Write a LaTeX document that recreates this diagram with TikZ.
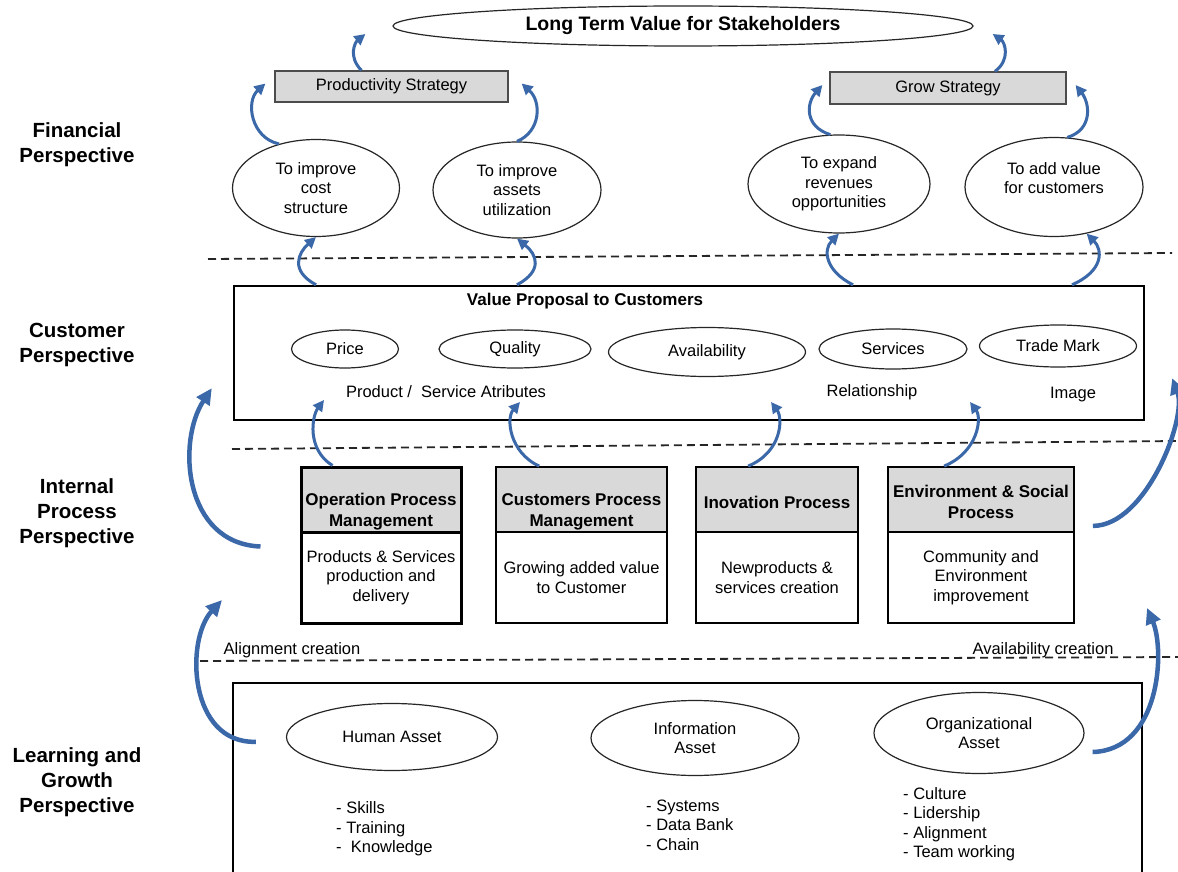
\documentclass[tikz,border=0pt]{standalone}
\usepackage{fontspec}
\setmainfont{Liberation Sans}
\usetikzlibrary{shapes.geometric,arrows.meta,calc}
\definecolor{arrowblue}{RGB}{59,104,168}
\definecolor{boxgray}{RGB}{217,217,217}
\begin{document}
\begin{tikzpicture}[x=1pt,y=-1pt,
  txt/.style={font=\fontsize{16.5}{19.5}\selectfont, inner sep=0pt, align=center},
  btxt/.style={font=\bfseries\fontsize{17}{21}\selectfont, inner sep=0pt, align=center},
  plab/.style={font=\bfseries\fontsize{20.5}{25}\selectfont, inner sep=0pt, align=center},
  ell/.style={ellipse, draw=black!85, line width=1.2pt, inner sep=0pt, align=center, font=\fontsize{16.5}{19.5}\selectfont},
  gbox/.style={rectangle, draw=black!70, fill=boxgray, line width=1.2pt, inner sep=0pt, font=\fontsize{16.5}{19.5}\selectfont},
  hdr/.style={rectangle, draw=black, fill=boxgray, line width=1.8pt, inner sep=0pt, minimum height=65pt},
  bdy/.style={rectangle, draw=black, line width=1.8pt, inner sep=0pt, minimum height=91pt, align=center, font=\fontsize{16.5}{19.5}\selectfont},
  bigbox/.style={rectangle, draw=black, line width=2.4pt, inner sep=0pt},
  dline/.style={draw=black!85, line width=1.8pt, dash pattern=on 8pt off 5pt},
  barrow/.style={draw=arrowblue, line width=3pt, -{Triangle[length=11pt,width=11pt]}},
  bigarrow/.style={draw=arrowblue, line width=4.5pt, -{Triangle[length=16pt,width=15pt]}}
]
\useasboundingbox (0,0) rectangle (1178,872);
\clip (0,0) rectangle (1178,872);
\fill[white] (0,0) rectangle (1178,872);

% perspective labels
\node[plab] (fin) at (77,145) {Financial\\Perspective};
\node[plab] (cup) at (77,345) {Customer\\Perspective};
\node[plab] (ipp) at (77,513) {Internal\\Process\\Perspective};
\node[plab] (lgp) at (77,782) {Learning and\\Growth\\Perspective};

% financial level
\node[ell, minimum width=580pt, minimum height=40pt, font=\bfseries\fontsize{19.5}{22}\selectfont] (title) at (683,26) {Long Term Value for Stakeholders};
\node[gbox, minimum width=233pt, minimum height=31pt] (prod) at (391.5,86.5) {Productivity Strategy};
\node[gbox, minimum width=236pt, minimum height=32pt] (grow) at (948,88) {Grow Strategy};
\node[ell, minimum width=167pt, minimum height=97pt] (e1) at (316,188) {To improve\\cost\\structure};
\node[ell, minimum width=168pt, minimum height=96pt] (e2) at (517,190) {To improve\\assets\\utilization};
\node[ell, minimum width=182pt, minimum height=98pt] (e3) at (839,184) {To expand\\revenues\\opportunities};
\node[ell, minimum width=178pt, minimum height=99pt] (e4) at (1054,187) {};
\node[txt] (e4t) at (1054,178) {To add value\\for customers};

% dashed separators
\coordinate (d1l) at (208,259); \coordinate (d1r) at (1172,253);
\coordinate (d2l) at (232,449); \coordinate (d2r) at (1178,441);
\coordinate (d3l) at (200,661); \coordinate (d3r) at (1178,657);
\draw[dline] (d1l) -- (d1r);
\draw[dline] (d2l) -- (d2r);
\draw[dline] (d3l) -- (d3r);

% customer level
\node[bigbox, minimum width=910pt, minimum height=134pt] (cust) at (689,353) {};
\node[btxt] (vp) at (585,301) {Value Proposal to Customers};
\node[ell, minimum width=107pt, minimum height=38pt] (price) at (345,349) {Price};
\node[ell, minimum width=152pt, minimum height=38pt] (quality) at (515,349) {Quality};
\node[ell, minimum width=197pt, minimum height=49pt] (avail) at (707,352) {Availability};
\node[ell, minimum width=148pt, minimum height=40pt] (serv) at (893,349) {Services};
\node[ell, minimum width=157pt, minimum height=42pt] (tm) at (1058,346) {Trade Mark};
\node[txt] (psa) at (446,392) {Product /\ \ Service Atributes};
\node[txt] (rel) at (872,392) {Relationship};
\node[txt] (img) at (1073,395) {Image};

% internal process level
\node[hdr, minimum width=160pt, line width=3pt] (p1h) at (381,499.5) {};
\node[bdy, minimum width=160pt, line width=3pt] (p1b) at (381,577.5) {Products \& Services\\production and\\delivery};
\node[hdr, minimum width=171pt] (p2h) at (581.5,499.5) {};
\node[bdy, minimum width=171pt] (p2b) at (581.5,577.5) {Growing added value\\to Customer};
\node[hdr, minimum width=162pt] (p3h) at (777,499.5) {};
\node[bdy, minimum width=162pt] (p3b) at (777,577.5) {Newproducts \&\\services creation};
\node[hdr, minimum width=186pt] (p4h) at (981,499.5) {};
\node[bdy, minimum width=186pt] (p4b) at (981,577.5) {Community and\\Environment\\improvement};
\node[btxt] (p1t) at (381,512) {Operation Process\\Management};
\node[btxt] (p2t) at (581.5,512) {Customers Process\\Management};
\node[btxt] (p3t) at (777,502) {Inovation Process};
\node[btxt] (p4t) at (981,501.5) {Environment \& Social\\Process};

\node[txt] (align) at (292,650) {Alignment creation};
\node[txt] (avc) at (1043,650) {Availability creation};

% learning level
\node[bigbox, minimum width=909pt, minimum height=220pt] (learn) at (687.5,793) {};
\node[ell, minimum width=211pt, minimum height=67pt] (human) at (392,737) {Human Asset};
\node[ell, minimum width=208pt, minimum height=75pt] (info) at (695,738) {Information\\Asset};
\node[ell, minimum width=210pt, minimum height=81pt] (org) at (979,733) {Organizational\\Asset};
\node[txt, align=left, anchor=west] (hl) at (336,829) {- Skills\\- Training\\-\ \ Knowledge};
\node[txt, align=left, anchor=west] (il) at (646,825) {- Systems\\- Data Bank\\- Chain};
\node[txt, align=left, anchor=west] (ol) at (903,824) {- Culture\\- Lidership\\- Alignment\\- Team working};

% arrows: financial
\draw[barrow] ($(prod.north)+(-30,0)$) .. controls +(-14,-14) and +(-10,8) .. ($(title.west)+(-27,8)$);
\draw[barrow] ($(grow.north)+(47,0)$) .. controls +(16,-12) and +(12,8) .. ($(title.east)+(19,8)$);
\draw[barrow] (e1.130) .. controls +(-28,-6) and +(-20,18) .. ($(prod.west)+(-9,-3)$);
\draw[barrow] (e2.north) .. controls +(24,-10) and +(20,18) .. ($(prod.east)+(13,-3)$);
\draw[barrow] (e3.100) .. controls +(-26,-8) and +(-16,18) .. ($(grow.west)+(-7,-3)$);
\draw[barrow] (e4.75) .. controls +(26,-8) and +(14,18) .. ($(grow.east)+(9,-3)$);

% arrows: customer -> financial
\draw[barrow] (e1 |- cust.north) .. controls +(-26,-14) and +(-18,16) .. (e1.south);
\draw[barrow] (e2 |- cust.north) .. controls +(26,-14) and +(20,16) .. (e2.south);
\draw[barrow] ($(e3 |- cust.north)+(14,0)$) .. controls +(-28,-14) and +(-16,16) .. (e3.south);
\draw[barrow] ($(e4 |- cust.north)+(18,0)$) .. controls +(32,-14) and +(16,16) .. (e4.305);

% arrows: internal -> customer
\coordinate (h11) at (324,400);
\coordinate (h12) at (520,402);
\coordinate (h13) at (771,402);
\coordinate (h14) at (970,402);
\draw[barrow] ($(p1h.north west)+(33,0)$) .. controls +(-26,-16) and +(-12,16) .. (h11);
\draw[barrow] ($(p2h.north west)+(44,0)$) .. controls +(-30,-14) and +(-14,16) .. (h12);
\draw[barrow] ($(p3h.north west)+(53,0)$) .. controls +(34,-14) and +(12,16) .. (h13);
\draw[barrow] ($(p4h.north west)+(57,0)$) .. controls +(34,-14) and +(12,16) .. (h14);

% big side arrows
\coordinate (h3) at (222,600);
\coordinate (h4) at (1147,608);
\draw[bigarrow] ($(p1b.north west)+(-39,16)$) .. controls +(-77,-3) and +(-35,53) .. ($(cust.south west)+(-21,-33)$);
\draw[bigarrow] ($(p4h.south east)+(18,-7)$) .. controls +(53,0) and +(15,40) .. ($(cust.south east)+(27,-43)$);
\draw[bigarrow] ($(learn.north west)+(24,60)$) .. controls +(-67,2) and +(-37,40) .. (h3);
\draw[bigarrow] ($(org.east)+(8,19)$) .. controls +(68,-2) and +(18,42) .. (h4);
\end{tikzpicture}
\end{document}
